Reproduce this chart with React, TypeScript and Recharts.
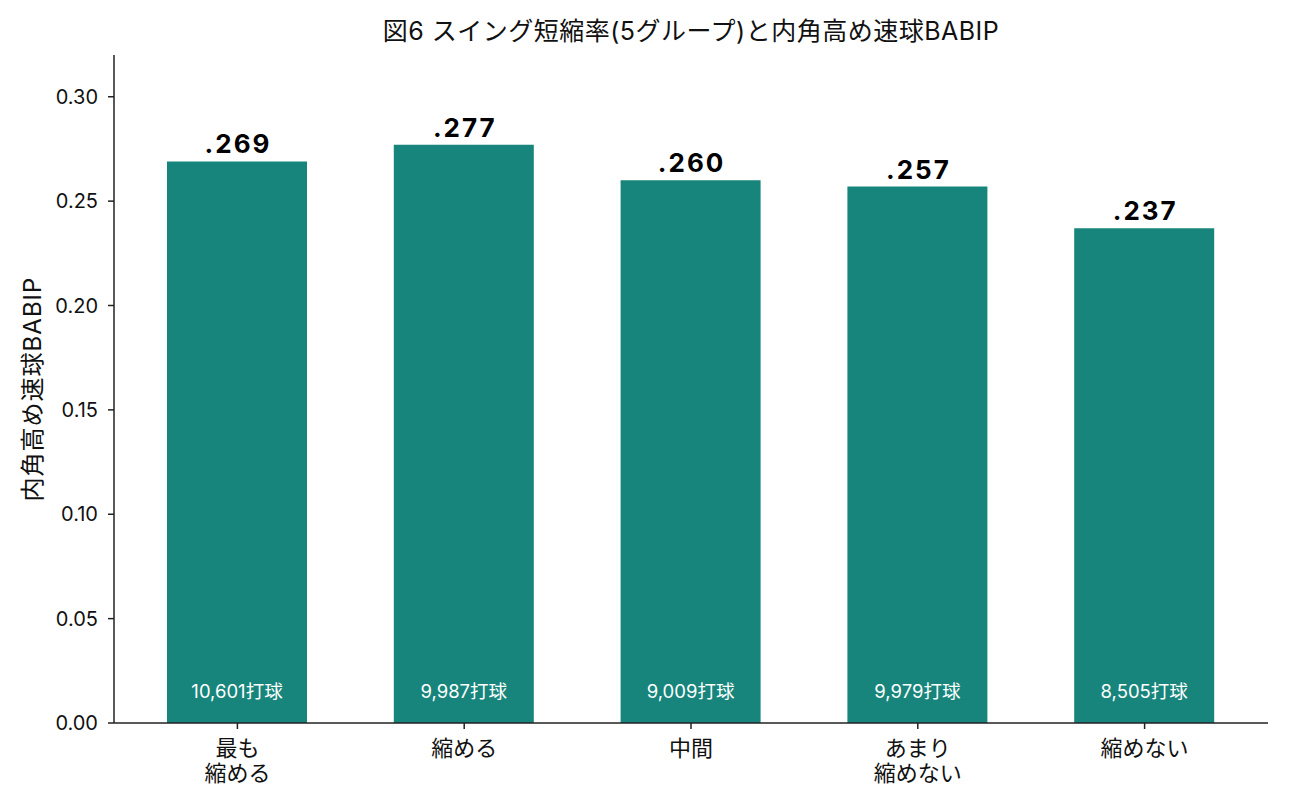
import React from "react";
import { BarChart, Bar, XAxis, YAxis, LabelList, Label } from "recharts";

const groups = ["最も\n縮める", "縮める", "中間", "あまり\n縮めない", "縮めない"];
const babip = [0.269, 0.277, 0.26, 0.257, 0.237];
const pitches = [10601, 9987, 9009, 9979, 8505];
const yTicks = [0, 0.05, 0.1, 0.15, 0.2, 0.25, 0.3];

const FONT = "Inter, 'Noto Sans CJK JP', sans-serif";
const BAR_COLOR = "#17857B";
const AXIS_COLOR = "#222";

const data = groups.map((g, i) => ({ group: g, babip: babip[i], count: pitches[i] }));

const GroupTick = (props: any) => {
  const { x, y, payload } = props;
  const lines = String(payload.value).split("\n");
  return (
    <g>
      {lines.map((line, i) => (
        <text
          key={i}
          x={x}
          y={y + 25 + i * 25}
          textAnchor="middle"
          fontSize={22}
          fill="#111"
          fontFamily={FONT}
        >
          {line}
        </text>
      ))}
    </g>
  );
};

const ValueLabel = (props: any) => {
  const { x, y, width, value } = props;
  return (
    <text
      x={x + width / 2 + 1}
      y={y - 8}
      textAnchor="middle"
      fontSize={26}
      letterSpacing={2}
      fontWeight="bold"
      fill="#000"
      fontFamily={FONT}
    >
      {Number(value).toFixed(3).slice(1)}
    </text>
  );
};

const CountLabel = (props: any) => {
  const { x, y, width, height, value } = props;
  return (
    <text
      x={x + width / 2}
      y={y + height - 32}
      textAnchor="middle"
      dominantBaseline="central"
      fontSize={18.5}
      fill="#fff"
      fontFamily={FONT}
    >
      {Number(value).toLocaleString("en-US")}打球
    </text>
  );
};

export default function App() {
  return (
    <div style={{ width: 1274, height: 794, position: "relative", fontFamily: FONT }}>
      <div
        style={{
          position: "absolute",
          top: 3,
          left: 0,
          width: 1366,
          textAlign: "center",
          fontSize: 25,
          letterSpacing: 0.5,
          color: "#111",
        }}
      >
        図6 スイング短縮率(5グループ)と内角高め速球BABIP
      </div>
      <BarChart
        width={1274}
        height={794}
        data={data}
        margin={{ top: 47, right: 14, left: 0, bottom: 19 }}
      >
        <XAxis
          dataKey="group"
          interval={0}
          height={60}
          padding={{ left: 10, right: 10 }}
          tick={<GroupTick />}
          tickLine={{ stroke: AXIS_COLOR, strokeWidth: 1.5 }}
          axisLine={{ stroke: AXIS_COLOR, strokeWidth: 1.5 }}
          tickSize={6}
        />
        <YAxis
          width={106}
          domain={[0, 0.32]}
          ticks={yTicks}
          tickFormatter={(v: number) => v.toFixed(2)}
          tick={{ fontSize: 20, fill: "#111", fontFamily: FONT }}
          tickLine={{ stroke: AXIS_COLOR, strokeWidth: 1.5 }}
          axisLine={{ stroke: AXIS_COLOR, strokeWidth: 1.5 }}
          tickSize={6}
          tickMargin={10}
        >
          <Label
            value="内角高め速球BABIP"
            angle={-90}
            position="insideLeft"
            offset={24}
            style={{
              fontSize: 24,
              letterSpacing: 1,
              fill: "#111",
              fontFamily: FONT,
              textAnchor: "middle",
            }}
          />
        </YAxis>
        <Bar dataKey="babip" fill={BAR_COLOR} barSize={140} isAnimationActive={false}>
          <LabelList dataKey="babip" content={<ValueLabel />} />
          <LabelList dataKey="count" content={<CountLabel />} />
        </Bar>
      </BarChart>
    </div>
  );
}
